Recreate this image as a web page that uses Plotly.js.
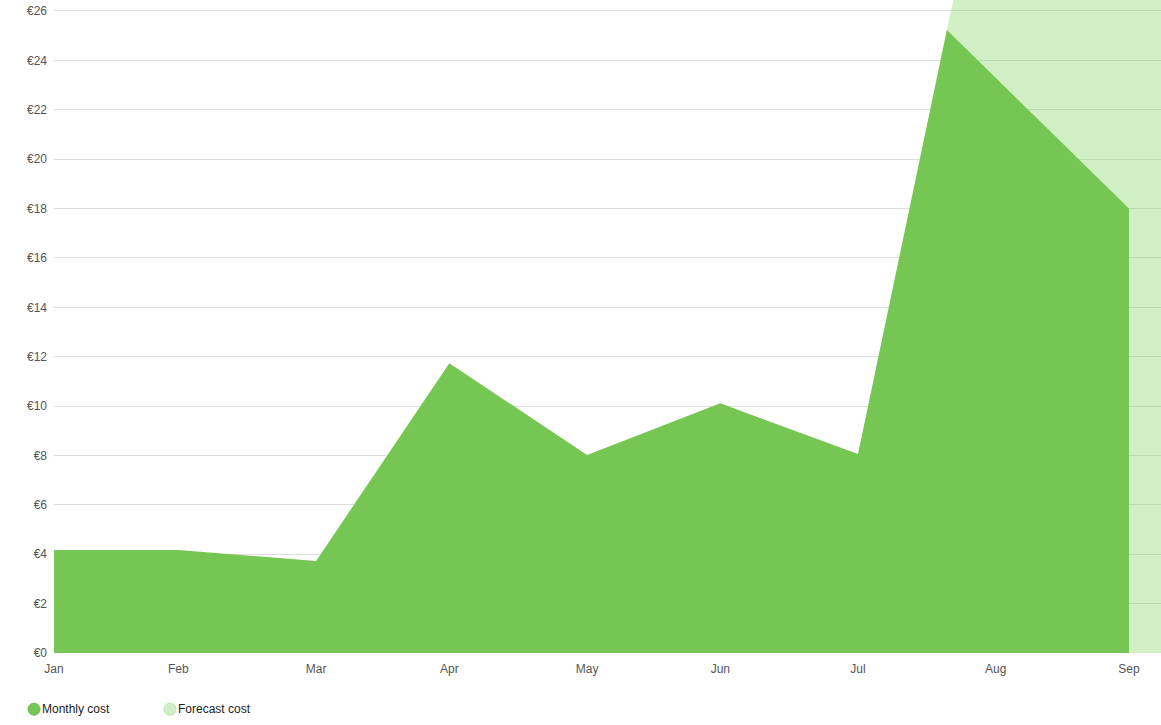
<!DOCTYPE html>
<html>
<head>
<meta charset="utf-8">
<script src="https://cdn.plot.ly/plotly-3.0.1.min.js"></script>
<style>
  html, body { margin: 0; padding: 0; background: #fff; }
  #chart { width: 1161px; height: 725px; }
</style>
</head>
<body>
<div id="chart"></div>
<script>
// Monthly cost (points at month ends, plus the current-day point in August)
var monthlyDates  = ['2023-01-31', '2023-02-28', '2023-03-31', '2023-04-30', '2023-05-31', '2023-06-30', '2023-07-31', '2023-08-20', '2023-09-30'];
var monthlyValues = [4.17, 4.17, 3.73, 11.73, 8.02, 10.11, 8.06, 25.23, 18.0];

// Forecast cost (starts at the current-day point, runs off the top of the chart)
var forecastDates  = ['2023-08-20', '2023-10-31'];
var forecastValues = [25.23, 84];

// X tick positions and labels
var tickDates  = ['2023-01-31', '2023-02-28', '2023-03-31', '2023-04-30', '2023-05-31', '2023-06-30', '2023-07-31', '2023-08-31', '2023-09-30'];
var tickLabels = ['Jan', 'Feb', 'Mar', 'Apr', 'May', 'Jun', 'Jul', 'Aug', 'Sep'];

var seriesNames = ['Monthly cost', 'Forecast cost'];

var monthlyColor = '#76c653';
var forecastFill = 'rgba(140,215,110,0.4)';

var FONT = '"Liberation Sans", Arial, Helvetica, sans-serif';

var traces = [
  {
    x: forecastDates, y: forecastValues,
    type: 'scatter', mode: 'none', fill: 'tozeroy',
    fillcolor: forecastFill, name: seriesNames[1],
    showlegend: false, hoverinfo: 'skip'
  },
  {
    x: monthlyDates, y: monthlyValues,
    type: 'scatter', mode: 'none', fill: 'tozeroy',
    fillcolor: monthlyColor, name: seriesNames[0],
    showlegend: false
  }
];

// Legend drawn as pixel-sized circles + text below the plot
var legendY = -0.086;
function pxToPaperX(px) { return (px - 54) / 1107; }
var shapes = [
  { type: 'circle', xref: 'paper', yref: 'paper', xsizemode: 'pixel', ysizemode: 'pixel',
    xanchor: pxToPaperX(34), yanchor: legendY, x0: -6, x1: 6, y0: -6, y1: 6,
    fillcolor: monthlyColor, line: { color: '#6cbf48', width: 1 } },
  { type: 'circle', xref: 'paper', yref: 'paper', xsizemode: 'pixel', ysizemode: 'pixel',
    xanchor: pxToPaperX(170), yanchor: legendY, x0: -6, x1: 6, y0: -6, y1: 6,
    fillcolor: '#d1efc6', line: { color: '#b9e4a8', width: 1 } }
];
var annotations = [
  { xref: 'paper', yref: 'paper', x: pxToPaperX(40), y: legendY, xanchor: 'left', yanchor: 'middle',
    text: seriesNames[0], showarrow: false, font: { family: FONT, size: 12, color: '#222' } },
  { xref: 'paper', yref: 'paper', x: pxToPaperX(176), y: legendY, xanchor: 'left', yanchor: 'middle',
    text: seriesNames[1], showarrow: false, font: { family: FONT, size: 12, color: '#222' } }
];

var layout = {
  width: 1161, height: 725,
  margin: { l: 54, r: 0, t: 0, b: 72, pad: 0 },
  paper_bgcolor: '#ffffff', plot_bgcolor: '#ffffff',
  showlegend: false,
  font: { family: FONT, size: 12, color: '#555' },
  xaxis: {
    type: 'date',
    range: ['2023-01-31', '2023-10-07 05:00'],
    tickmode: 'array', tickvals: tickDates, ticktext: tickLabels,
    showgrid: false, zeroline: false, showline: false, ticks: '',
    tickfont: { family: FONT, size: 12, color: '#555' },
    ticklabelstandoff: 7,
    fixedrange: true
  },
  yaxis: {
    range: [0, 26.445],
    tickmode: 'linear', tick0: 0, dtick: 2,
    tickprefix: '€',
    showgrid: true, gridcolor: '#dddddd', gridwidth: 1,
    zeroline: false, showline: false, ticks: '',
    tickfont: { family: FONT, size: 12, color: '#555' },
    ticklabelstandoff: 6,
    fixedrange: true
  },
  shapes: shapes,
  annotations: annotations
};

Plotly.newPlot('chart', traces, layout, { displayModeBar: false, staticPlot: true });
</script>
</body>
</html>
